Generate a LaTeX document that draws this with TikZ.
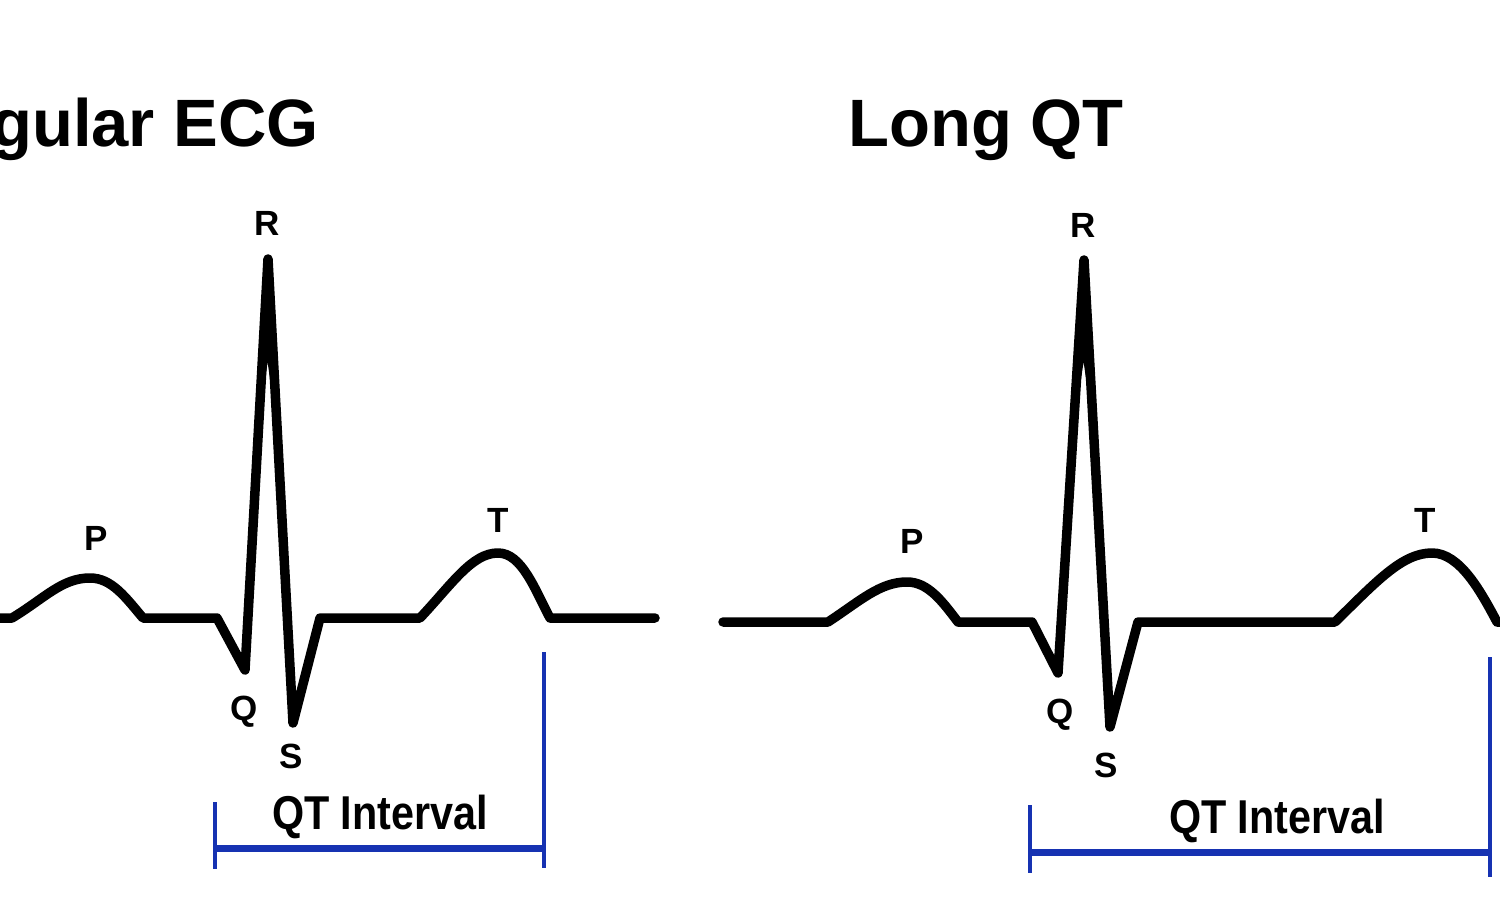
\documentclass[tikz,border=0pt]{standalone}
\usepackage{fontspec}
\setmainfont{Liberation Sans}
\definecolor{qtb}{RGB}{22,50,178}
\tikzset{
  trace/.style={line width=9.5pt, line join=round, line cap=round},
  qtside/.style={draw=qtb, line width=4pt},
  qtbar/.style={draw=qtb, line width=7pt},
  wavelbl/.style={font=\fontsize{35}{40}\selectfont\bfseries, inner sep=0pt, anchor=base},
  titlelbl/.style={font=\fontsize{67}{80}\selectfont\bfseries, inner sep=0pt},
  qtlbl/.style={font=\fontsize{47.5}{55}\selectfont\bfseries, inner sep=0pt, anchor=base, xscale=0.87},
}
\begin{document}
\begin{tikzpicture}[x=1pt, y=-1pt]
\useasboundingbox (0,0) rectangle (1500,901);
\fill[white] (0,0) rectangle (1500,901);
\begin{scope}
\clip (0,0) rectangle (1500,901);

% titles
\node[titlelbl, anchor=base east] (t1) at (319,147) {Regular ECG};
\node[titlelbl, anchor=base west] (t2) at (848,147) {Long QT};

% left trace
\draw[trace] (-10,618) -- (12,618)
  .. controls (45,598) and (62,578) .. (90,578)
  .. controls (112,578) and (126,598) .. (143,618)
  -- (217,618) -- (245,670) -- (268,259) -- (293,723) -- (320,618)
  -- (420,618)
  .. controls (452,584) and (472,553) .. (498,553)
  .. controls (522,553) and (535,590) .. (550,618)
  -- (655,618);
\fill (268,259) -- (258.4,430) -- (267.6,362) -- (277.2,430) -- cycle;

% right trace
\draw[trace] (723,622) -- (828,622)
  .. controls (860,601) and (880,582) .. (907,582)
  .. controls (928,582) and (942,601) .. (958,622)
  -- (1032,622) -- (1058,673) -- (1084,260) -- (1110,727) -- (1138,622)
  -- (1335,622)
  .. controls (1376,582) and (1402,553) .. (1432,553)
  .. controls (1460,553) and (1481,592) .. (1497,622)
  -- (1530,622);
\fill (1084,260) -- (1073.3,430) -- (1083.6,362) -- (1093.5,430) -- cycle;

% wave labels left
\node[wavelbl] (p1) at (96,550) {P};
\node[wavelbl] (r1) at (267,236) {R};
\node[wavelbl] (tw1) at (498,532) {T};
\node[wavelbl] (q1) at (244,720) {Q};
\node[wavelbl] (s1) at (291,768) {S};

% wave labels right
\node[wavelbl] (p2) at (912,553) {P};
\node[wavelbl] (r2) at (1083,238) {R};
\node[wavelbl] (tw2) at (1425,532) {T};
\node[wavelbl] (q2) at (1060,723) {Q};
\node[wavelbl] (s2) at (1106,777) {S};

% QT brackets left
\coordinate (la1) at (215,802);
\coordinate (la2) at (215,869);
\coordinate (lb1) at (544,652);
\coordinate (lb2) at (544,868);
\draw[qtside] (la1) -- (la2);
\draw[qtside] (lb1) -- (lb2);
\draw[qtbar] (215,848) -- (544,848);
\node[qtlbl] (qt1) at (380,829) {QT Interval};

% QT brackets right
\coordinate (ra1) at (1030,805);
\coordinate (ra2) at (1030,873);
\coordinate (rb1) at (1490,657);
\coordinate (rb2) at (1490,877);
\draw[qtside] (ra1) -- (ra2);
\draw[qtside] (rb1) -- (rb2);
\draw[qtbar] (1030,852) -- (1490,852);
\node[qtlbl] (qt2) at (1277,833) {QT Interval};
\end{scope}
\end{tikzpicture}
\end{document}
